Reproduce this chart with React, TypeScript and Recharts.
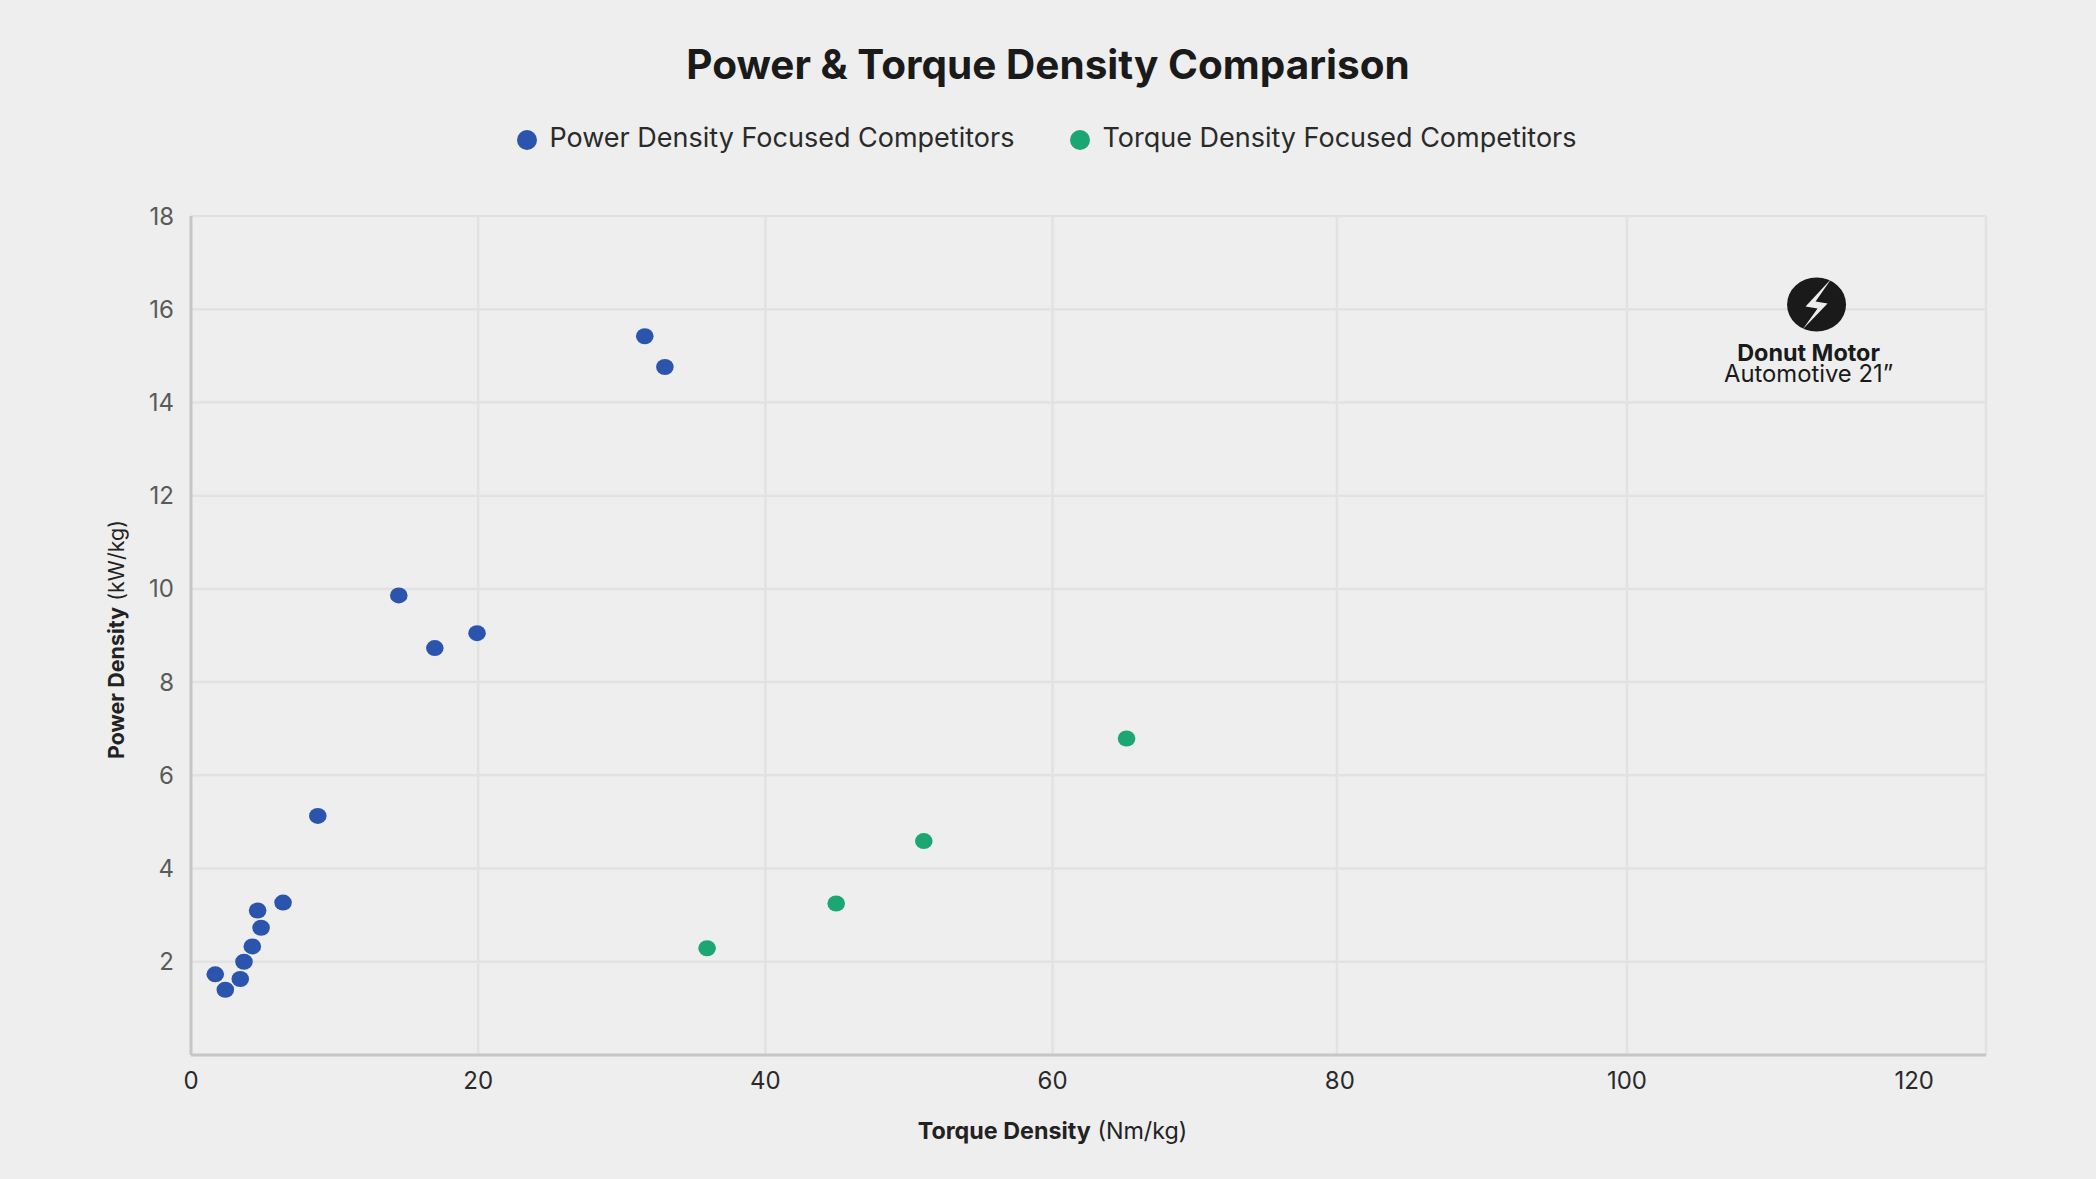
import { ScatterChart, Scatter, XAxis, YAxis, CartesianGrid, Legend, ReferenceDot, Label } from 'recharts';

const powerTorque = [1.69, 2.39, 3.43, 3.69, 4.27, 4.88, 4.64, 6.41, 8.83, 14.47, 16.98, 19.92, 31.6, 33.0];
const powerDensity = [1.73, 1.4, 1.63, 2.0, 2.33, 2.73, 3.1, 3.27, 5.13, 9.86, 8.73, 9.05, 15.42, 14.76];
const torqueTorque = [35.94, 44.93, 51.03, 65.15];
const torqueDensity = [2.29, 3.25, 4.59, 6.79];
const xTicks = [0, 20, 40, 60, 80, 100, 120];
const yTicks = [2, 4, 6, 8, 10, 12, 14, 16, 18];
const xGridValues = [20, 40, 60, 79.8, 100, 125];
const donutMotor = { x: 113.2, y: 16.1 };

const powerData = powerTorque.map((x, i) => ({ x, y: powerDensity[i] }));
const torqueData = torqueTorque.map((x, i) => ({ x, y: torqueDensity[i] }));

const FONT = 'Inter, sans-serif';

// markers in the picture are a touch wider than tall
const Dot = (props: any) => (
  <ellipse cx={props.cx} cy={props.cy} rx={8.8} ry={8} fill={props.fill} />
);

const DonutBadge = (props: any) => {
  const { cx, cy } = props;
  return (
    <g>
      <ellipse cx={cx} cy={cy} rx={29.5} ry={27} fill="#1a1a1a" />
      <path
        transform={`translate(${cx} ${cy})`}
        d="M15 -26 L-11 2 L1 4 L-14 25 L11 -1 L-1 -3 Z"
        fill="#eeeeee"
      />
      <text x={cx - 8} y={cy + 56} textAnchor="middle" fontFamily={FONT} fontWeight={700} fontSize={23.4} fill="#1a1a1a">
        Donut Motor
      </text>
      <text x={cx - 8} y={cy + 77} textAnchor="middle" fontFamily={FONT} fontSize={23.8} fill="#1a1a1a">
        Automotive 21”
      </text>
    </g>
  );
};

const XTitle = (props: any) => {
  const { x, y, width } = props.viewBox;
  return (
    <text x={x + width / 2 - 36} y={y + 84} textAnchor="middle" fontFamily={FONT} fontSize={23.3} fill="#222">
      <tspan fontWeight={700}>Torque Density</tspan> (Nm/kg)
    </text>
  );
};

const YTitle = (props: any) => {
  const { y, height } = props.viewBox;
  const cy = y + height / 2 + 4;
  return (
    <text x={118} y={cy} transform={`rotate(-90 118 ${cy})`} textAnchor="middle" dominantBaseline="middle" fontFamily={FONT} fontSize={21.5} fill="#222">
      <tspan fontWeight={700}>Power Density</tspan> (kW/kg)
    </text>
  );
};

export default function App() {
  return (
    <div style={{ position: 'absolute', left: 0, top: 0, width: 2096, height: 1179, background: '#eeeeee', overflow: 'hidden' }}>
      <div
        style={{
          position: 'absolute',
          top: 40,
          width: '100%',
          textAlign: 'center',
          fontFamily: FONT,
          fontWeight: 700,
          fontSize: 40.5,
          lineHeight: '50px',
          color: '#1a1a1a',
        }}
      >
        Power &amp; Torque Density Comparison
      </div>
      <ScatterChart width={2096} height={1179} margin={{ top: 183, right: 110, bottom: 64, left: 131 }}>
        <CartesianGrid stroke="#e2e2e2" strokeWidth={2.5} verticalValues={xGridValues} horizontalValues={yTicks} />
        <XAxis
          type="number"
          dataKey="x"
          domain={[0, 125]}
          ticks={xTicks}
          interval={0}
          height={60}
          tickLine={false}
          tickMargin={11}
          axisLine={{ stroke: '#c6c6c6', strokeWidth: 3 }}
          tick={{ fill: '#2a2a2a', fontSize: 24, fontFamily: FONT }}
        >
          <Label content={<XTitle />} />
        </XAxis>
        <YAxis
          type="number"
          dataKey="y"
          domain={[0, 18]}
          ticks={yTicks}
          interval={0}
          width={60}
          tickLine={false}
          tickMargin={11}
          axisLine={{ stroke: '#c6c6c6', strokeWidth: 3 }}
          tick={{ fill: '#5a5a5a', fontSize: 24, fontFamily: FONT }}
        >
          <Label content={<YTitle />} />
        </YAxis>
        <Legend
          verticalAlign="top"
          align="center"
          iconType="circle"
          iconSize={20}
          wrapperStyle={{ top: 121, left: 27, width: 2096, fontFamily: FONT, fontSize: 27 }}
          formatter={(value) => <span style={{ color: '#2a2a2a', marginLeft: 8, marginRight: 46 }}>{value}</span>}
        />
        <Scatter name="Power Density Focused Competitors" data={powerData} fill="#2b55ac" shape={<Dot />} isAnimationActive={false} />
        <Scatter name="Torque Density Focused Competitors" data={torqueData} fill="#1ca673" shape={<Dot />} isAnimationActive={false} />
        <ReferenceDot x={donutMotor.x} y={donutMotor.y} shape={<DonutBadge />} />
      </ScatterChart>
    </div>
  );
}
